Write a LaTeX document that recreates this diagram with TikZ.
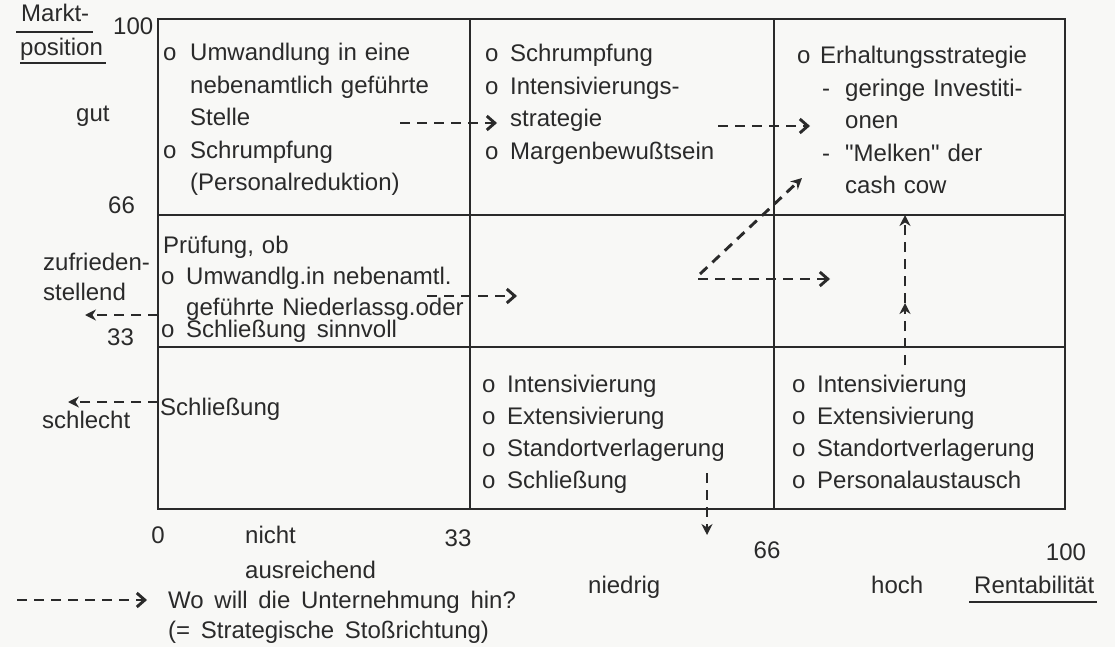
\documentclass[tikz,border=0pt]{standalone}
\usepackage{fontspec}
\setmainfont{Liberation Sans}[WordSpace=1.6, Ligatures=TeXOff]
\usetikzlibrary{arrows.meta}
\definecolor{ink}{HTML}{2A2A2A}
\definecolor{paper}{HTML}{F8F8F6}
\newcommand\bo[1][25pt]{\makebox[#1][l]{o}}
\newcommand\bi[1][25pt]{\hspace*{#1}}
\begin{document}
\begin{tikzpicture}[x=1pt,y=-1pt,
  txt/.style={font=\fontsize{24}{32.5}\selectfont, text=ink, inner sep=0pt, anchor=base west},
  num/.style={txt, anchor=base},
  cell/.style={txt, text width=420pt, align=left},
  gridline/.style={draw=ink, line width=2.7pt},
  uline/.style={draw=ink, line width=1.8pt},
  dashar/.style={draw=ink, line width=2.9pt, dash pattern=on 10pt off 7pt},
  barb/.style={dashar, -{Straight Barb[length=8pt,width=14pt]}},
  stl/.style={dashar, -{Stealth[length=11pt,width=11pt]}},
]
\fill[paper] (0,0) rectangle (1115,647);
\useasboundingbox (0,0) rectangle (1115,647);

% grid
\draw[gridline] (158,19) rectangle (1065,509);
\draw[gridline] (470,19) -- (470,509);
\draw[gridline] (774,19) -- (774,509);
\draw[gridline] (158,215) -- (1065,215);
\draw[gridline] (158,347) -- (1065,347);

% vertical axis labels
\node[txt] (markt) at (21,22) {Markt-};
\draw[uline] ([xshift=-5pt,yshift=-10pt]markt.base west) -- ([xshift=4pt,yshift=-10pt]markt.base east);
\node[txt] (pos) at (20,56) {position};
\draw[uline] ([yshift=-7pt]pos.base west) -- ([xshift=3pt,yshift=-7pt]pos.base east);
\node[txt] (y100) at (113,35) {100};
\node[txt] (gut) at (76,122) {gut};
\node[txt] (y66) at (108,213) {66};
\node[txt] (zuf) at (43,270) {zufrieden-};
\node[txt] (stel) at (43,300) {stellend};
\node[txt] (y33) at (107,345) {33};
\node[txt] (schl) at (42,428) {schlecht};

% cells
\node[cell] (tl) at (163,61) {\bo[27pt]Umwandlung in eine\\ \bi[27pt]nebenamtlich geführte\\ \bi[27pt]Stelle\\ \bo[27pt]Schrumpfung\\ \bi[27pt](Personalreduktion)};
\node[cell] (tm) at (485,62) {\bo Schrumpfung\\ \bo Intensivierungs-\\ \bi strategie\\ \bo Margenbewußtsein};
\node[cell] (tr) at (797,64) {\bo[23pt]Erhaltungsstrategie\\ \bi[25pt]\makebox[23pt][l]{-}geringe Investiti-\\ \bi[48pt]onen\\ \bi[25pt]\makebox[23pt][l]{-}"Melken" der\\ \bi[48pt]cash cow};
\node[cell, font=\fontsize{24}{31}\selectfont] (ml) at (161,253) {\hspace*{2pt}Prüfung, ob\\ \bo Umwandlg.in nebenamtl.\\ \bi geführte Niederlassg.oder};
\node[txt] (ml4) at (161,337) {\bo Schließung sinnvoll};
\node[txt] (bl) at (160,415) {Schließung};
\node[cell, font=\fontsize{24}{32}\selectfont] (bm) at (482,392) {\bo Intensivierung\\ \bo Extensivierung\\ \bo Standortverlagerung\\ \bo Schließung};
\node[cell, font=\fontsize{24}{32}\selectfont] (br) at (792,392) {\bo Intensivierung\\ \bo Extensivierung\\ \bo Standortverlagerung\\ \bo Personalaustausch};

% horizontal axis labels
\node[num] (x0) at (158,543) {0};
\node[txt] (nicht) at (245,543) {nicht};
\node[txt] (ausr) at (245,578) {ausreichend};
\node[num] (x33) at (458,546) {33};
\node[txt] (nied) at (588,593) {niedrig};
\node[num] (x66) at (767,558) {66};
\node[txt] (hoch) at (871,593) {hoch};
\node[num] (x100) at (1066,560) {100};
\node[txt] (rent) at (974,593) {Rentabilität};
\draw[uline] ([xshift=-5pt,yshift=-9pt]rent.base west) -- ([xshift=3pt,yshift=-9pt]rent.base east);

% legend
\coordinate (lgs) at (17,600);
\coordinate (lge) at (147,600);
\draw[barb] (lgs) -- (lge);
\node[txt] (leg1) at (168,608) {Wo will die Unternehmung hin?};
\node[txt] (leg2) at (168,638) {(= Strategische Stoßrichtung)};

% strategy arrows
\coordinate (a1s) at (400,123); \coordinate (a1e) at (497,123);
\draw[barb] (a1s) -- (a1e);
\coordinate (a2s) at (718,126); \coordinate (a2e) at (810,126);
\draw[barb] (a2s) -- (a2e);
\coordinate (a3s) at (427,296); \coordinate (a3e) at (517,296);
\draw[barb] (a3s) -- (a3e);
\coordinate (d1s) at (700,274); \coordinate (d1e) at (802,178);
\draw[stl] (d1s) -- (d1e);
\coordinate (h1s) at (698,279); \coordinate (h1e) at (830,279);
\draw[barb] (h1s) -- (h1e);
\coordinate (v1s) at (905,365); \coordinate (v1m) at (905,303); \coordinate (v1e) at (905,215);
\draw[stl] (v1s) -- (v1m);
\draw[stl] (v1m) -- (v1e);
\coordinate (dns) at (707,473); \coordinate (dne) at (707,535);
\draw[stl] (dns) -- (dne);
\coordinate (l1s) at (158,315); \coordinate (l1e) at (85,315);
\draw[stl] (l1s) -- (l1e);
\coordinate (l2s) at (158,402); \coordinate (l2e) at (68,402);
\draw[stl] (l2s) -- (l2e);
\end{tikzpicture}
\end{document}
